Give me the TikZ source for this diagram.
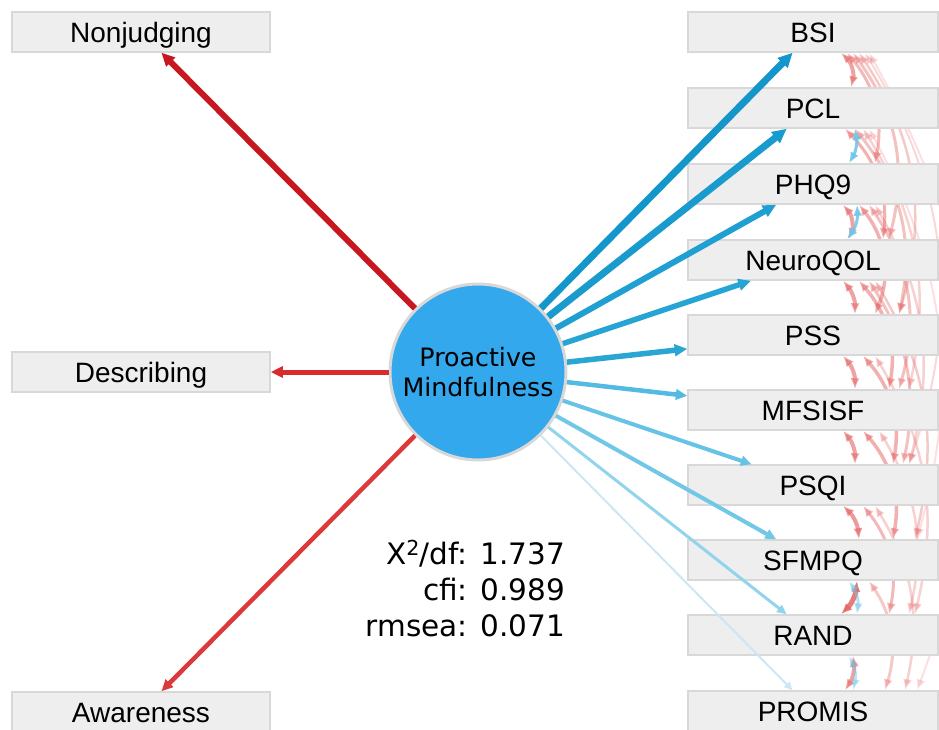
\documentclass[tikz,border=0pt]{standalone}
\usepackage{fontspec}
\setmainfont{Liberation Sans}
\newfontfamily\dejavu{DejaVu Sans}
\usepackage{xcolor}
\usepackage{tikz}
\usetikzlibrary{positioning,calc,arrows.meta,backgrounds}

\definecolor{boxgray}{RGB}{238,238,238}
\definecolor{boxline}{RGB}{216,216,216}
\definecolor{latentblue}{RGB}{51,168,236}
\definecolor{residred}{RGB}{228,100,100}
\definecolor{residblue}{RGB}{110,198,232}

\begin{document}
\begin{tikzpicture}[x=1pt, y=-1pt,
    box/.style={rectangle, draw=boxline, line width=1.5pt, fill=boxgray, minimum width=258pt, minimum height=40pt, inner sep=0pt, text height=20pt, text depth=0pt, font=\fontsize{28}{32}\selectfont},
    rbox/.style={box, minimum width=250pt},
    latent/.style={circle, draw=boxline, line width=3pt, fill=latentblue, minimum size=176pt, inner sep=0pt, align=center, font=\dejavu\fontsize{25.3}{30}\selectfont},
    load/.style={-{Triangle[length=6pt 1.2, width=5pt 1.2]}},
    resid/.style={{Latex[length=11pt,width=9pt]}-{Latex[length=11pt,width=9pt]}}
]
\clip (0,0) rectangle (939,729);
\useasboundingbox (0,0) rectangle (939,729);

% indicators
\node[box] (nonjudging) at (141,32) {Nonjudging};
\node[box] (describing) at (141,372) {Describing};
\node[box] (awareness) at (141,712) {Awareness};

\node[rbox] (bsi) at (813,32) {BSI};
\node[rbox] (pcl) at (813,108) {PCL};
\node[rbox] (phq) at (813,184) {PHQ9};
\node[rbox] (neuro) at (813,260) {NeuroQOL};
\node[rbox] (pss) at (813,335) {PSS};
\node[rbox] (mfsisf) at (813,410) {MFSISF};
\node[rbox] (psqi) at (813,485) {PSQI};
\node[rbox] (sfmpq) at (813,560) {SFMPQ};
\node[rbox] (rand) at (813,635) {RAND};
\node[rbox] (promis) at (813,711) {PROMIS};

% latent factor
\node[latent] (pm) at (478,372) {Proactive\\Mindfulness};

% fit measures
\node[anchor=east, align=right, inner sep=0pt, font=\dejavu\fontsize{29.5}{36}\selectfont] (fitstats) at (565,589)
    {X\textsuperscript{2}/df: 1.737\\cfi: 0.989\\rmsea: 0.071};

% loadings
\draw[load, line width=6pt, color={rgb,255:red,198;green,24;blue,30}] (pm) -- (nonjudging);
\draw[load, line width=5pt, color={rgb,255:red,214;green,44;blue,46}] (pm) -- (describing);
\draw[load, line width=4.5pt, color={rgb,255:red,220;green,58;blue,58}] (pm) -- (awareness);

\draw[load, line width=7pt, color={rgb,255:red,20;green,150;blue,202}] (pm) -- (bsi);
\draw[load, line width=7pt, color={rgb,255:red,26;green,155;blue,206}] (pm) -- (pcl);
\draw[load, line width=6pt, color={rgb,255:red,32;green,160;blue,210}] (pm) -- (phq);
\draw[load, line width=5.5pt, color={rgb,255:red,38;green,164;blue,212}] (pm) -- (neuro);
\draw[load, line width=5.5pt, color={rgb,255:red,42;green,166;blue,212}] (pm) -- (pss);
\draw[load, line width=4.5pt, color={rgb,255:red,84;green,186;blue,225}] (pm) -- (mfsisf);
\draw[load, line width=4pt, color={rgb,255:red,102;green,195;blue,230}] (pm) -- (psqi);
\draw[load, line width=4pt, color={rgb,255:red,112;green,200;blue,230}] (pm) -- (sfmpq);
\draw[load, line width=3pt, color={rgb,255:red,145;green,212;blue,236}] (pm) -- (rand);
\draw[load, line width=2pt, color={rgb,255:red,202;green,231;blue,245}] (pm) -- (promis);

% residual covariances
\begin{scope}[on background layer]
\foreach \a/\b/\sa/\sb/\bd/\op/\lw in {
    bsi/pcl/28/38/30/0.6/4, bsi/phq/34/62/25/0.45/3, bsi/neuro/40/76/25/0.4/3,
    bsi/pss/46/86/25/0.35/2.5, bsi/psqi/52/96/25/0.25/2, bsi/promis/56/104/25/0.2/2,
    pcl/neuro/32/70/25/0.5/3, pcl/pss/42/86/25/0.4/3, pcl/mfsisf/50/96/22/0.3/2.5,
    pcl/sfmpq/56/104/22/0.2/2,
    phq/neuro/30/36/30/0.6/4, phq/pss/46/62/30/0.5/3.5, phq/mfsisf/56/86/25/0.4/3,
    phq/psqi/62/96/22/0.3/2.5,
    neuro/pss/30/42/20/0.6/4, neuro/mfsisf/46/76/25/0.5/3.5, neuro/psqi/56/90/22/0.4/3,
    neuro/sfmpq/62/102/22/0.35/2.5,
    pss/mfsisf/30/42/20/0.6/4, pss/psqi/50/80/25/0.5/3.5, pss/rand/62/102/22/0.3/2.5,
    mfsisf/psqi/30/42/20/0.6/4, mfsisf/sfmpq/50/80/25/0.5/3.5, mfsisf/rand/66/96/22/0.3/2.5,
    psqi/sfmpq/30/46/20/0.65/4, psqi/rand/50/76/25/0.45/3, psqi/promis/62/92/22/0.3/2.5,
    sfmpq/rand/44/28/20/0.85/5, sfmpq/promis/56/72/25/0.35/3, rand/promis/40/32/20/0.6/4}
  \draw[resid, residred, line width=\lw pt, opacity=\op] ([xshift=\sa pt]\a.south) to[bend left=\bd] ([xshift=\sb pt]\b.north);
\foreach \a/\b/\sa/\sb/\op in {pcl/phq/42/36/0.9, phq/neuro/44/34/0.85, sfmpq/rand/36/44/0.5, rand/promis/36/40/0.45}
  \draw[resid, residblue, line width=3pt, opacity=\op] ([xshift=\sa pt]\a.south) to[bend left=20] ([xshift=\sb pt]\b.north);
\end{scope}

\end{tikzpicture}
\end{document}
